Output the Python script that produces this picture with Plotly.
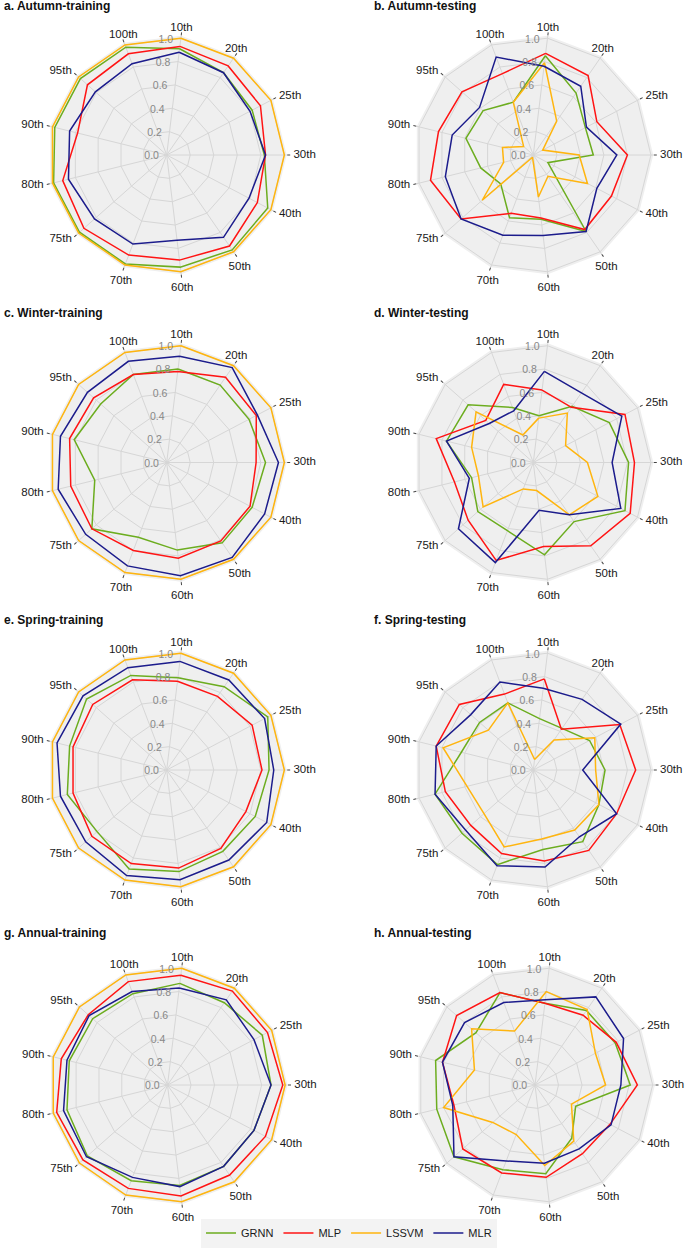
import plotly.graph_objects as go

categories = ['10th', '20th', '25th', '30th', '40th', '50th', '60th',
              '70th', '75th', '80th', '90th', '95th', '100th']
models = ['GRNN', 'MLP', 'LSSVM', 'MLR']
radial_ticks = [0.0, 0.2, 0.4, 0.6, 0.8, 1.0]
radial_labels = ['0.0', '0.2', '0.4', '0.6', '0.8', '1.0']

panel_titles = ['a. Autumn-training', 'b. Autumn-testing',
                'c. Winter-training', 'd. Winter-testing',
                'e. Spring-training', 'f. Spring-testing',
                'g. Annual-training', 'h. Annual-testing']

# a. Autumn-training
autumn_train_grnn = [0.91, 0.85, 0.82, 0.83, 0.97, 0.98, 0.96, 0.99, 0.99, 0.99, 0.98, 0.98, 0.98]
autumn_train_mlp = [0.93, 0.92, 0.90, 0.84, 0.87, 0.94, 0.90, 0.91, 0.94, 0.91, 0.78, 0.90, 0.92]
autumn_train_lssvm = [1.0, 1.0, 1.0, 1.0, 1.0, 1.0, 1.0, 1.0, 1.0, 1.0, 1.0, 1.0, 1.0]
autumn_train_mlr = [0.88, 0.85, 0.80, 0.84, 0.79, 0.85, 0.73, 0.81, 0.82, 0.86, 0.85, 0.81, 0.83]
# b. Autumn-testing
autumn_test_grnn = [0.85, 0.64, 0.50, 0.51, 0.14, 0.79, 0.55, 0.57, 0.37, 0.46, 0.59, 0.57, 0.48]
autumn_test_mlp = [0.87, 0.82, 0.61, 0.80, 0.75, 0.77, 0.54, 0.53, 0.82, 0.90, 0.83, 0.81, 0.74]
autumn_test_lssvm = [0.79, 0.35, 0.09, 0.39, 0.52, 0.22, 0.36, 0.02, 0.58, 0.26, 0.27, 0.11, 0.48]
autumn_test_mlr = [0.76, 0.71, 0.51, 0.71, 0.61, 0.79, 0.69, 0.73, 0.82, 0.77, 0.71, 0.61, 0.89]
# c. Winter-training
winter_train_grnn = [0.80, 0.80, 0.79, 0.84, 0.82, 0.83, 0.75, 0.68, 0.85, 0.63, 0.81, 0.75, 0.80]
winter_train_mlp = [0.78, 0.88, 0.86, 0.76, 0.80, 0.81, 0.82, 0.80, 0.85, 0.84, 0.85, 0.83, 0.80]
winter_train_lssvm = [1.0, 1.0, 1.0, 1.0, 1.0, 1.0, 1.0, 1.0, 1.0, 1.0, 1.0, 1.0, 1.0]
winter_train_mlr = [0.91, 0.98, 0.87, 0.95, 0.94, 0.98, 0.97, 0.94, 0.92, 0.95, 0.93, 0.90, 0.92]
# d. Winter-testing
winter_test_grnn = [0.40, 0.58, 0.73, 0.81, 0.88, 0.61, 0.79, 0.62, 0.63, 0.54, 0.76, 0.74, 0.50]
winter_test_mlp = [0.62, 0.57, 0.88, 0.86, 0.93, 0.86, 0.72, 0.89, 0.74, 0.69, 0.85, 0.54, 0.71]
winter_test_lssvm = [0.38, 0.51, 0.31, 0.46, 0.62, 0.54, 0.24, 0.24, 0.57, 0.48, 0.54, 0.65, 0.25]
winter_test_mlr = [0.78, 0.72, 0.85, 0.67, 0.84, 0.54, 0.41, 0.91, 0.85, 0.56, 0.76, 0.50, 0.47]
# e. Spring-training
spring_train_grnn = [0.79, 0.86, 0.97, 0.87, 0.85, 0.84, 0.87, 0.90, 0.79, 0.87, 0.85, 0.91, 0.86]
spring_train_mlp = [0.76, 0.76, 0.82, 0.81, 0.76, 0.81, 0.84, 0.85, 0.85, 0.82, 0.82, 0.84, 0.82]
spring_train_lssvm = [1.0, 1.0, 1.0, 1.0, 1.0, 1.0, 1.0, 1.0, 1.0, 1.0, 1.0, 1.0, 1.0]
spring_train_mlr = [0.93, 0.93, 0.94, 0.91, 0.96, 0.93, 0.94, 0.96, 0.92, 0.93, 0.96, 0.95, 0.93]
# f. Spring-testing
spring_test_grnn = [0.44, 0.43, 0.54, 0.61, 0.63, 0.74, 0.68, 0.86, 0.81, 0.86, 0.63, 0.61, 0.61]
spring_test_mlp = [0.78, 0.42, 0.83, 0.87, 0.80, 0.83, 0.78, 0.76, 0.71, 0.77, 0.85, 0.84, 0.69]
spring_test_lssvm = [0.09, 0.31, 0.59, 0.53, 0.63, 0.62, 0.59, 0.70, 0.56, 0.58, 0.79, 0.51, 0.61]
spring_test_mlr = [0.70, 0.73, 0.84, 0.42, 0.80, 0.69, 0.83, 0.87, 0.77, 0.86, 0.85, 0.71, 0.80]
# g. Annual-training
annual_train_grnn = [0.87, 0.85, 0.91, 0.88, 0.83, 0.84, 0.86, 0.87, 0.91, 0.88, 0.86, 0.85, 0.83]
annual_train_mlp = [0.94, 0.97, 0.96, 0.98, 0.94, 0.93, 0.95, 0.94, 0.96, 0.97, 0.93, 0.90, 0.94]
annual_train_lssvm = [1.0, 1.0, 1.0, 1.0, 1.0, 1.0, 1.0, 1.0, 1.0, 1.0, 1.0, 1.0, 1.0]
annual_train_mlr = [0.83, 0.88, 0.83, 0.88, 0.83, 0.84, 0.87, 0.84, 0.92, 0.91, 0.88, 0.89, 0.85]
# h. Annual-testing
annual_test_grnn = [0.70, 0.77, 0.77, 0.81, 0.39, 0.55, 0.76, 0.77, 0.92, 0.86, 0.87, 0.67, 0.84]
annual_test_mlp = [0.70, 0.72, 0.78, 0.87, 0.72, 0.71, 0.79, 0.80, 0.82, 0.71, 0.81, 0.89, 0.84]
annual_test_lssvm = [0.80, 0.78, 0.58, 0.60, 0.35, 0.58, 0.69, 0.45, 0.48, 0.80, 0.53, 0.72, 0.49]
annual_test_mlr = [0.73, 0.91, 0.85, 0.73, 0.73, 0.66, 0.67, 0.69, 0.92, 0.72, 0.81, 0.80, 0.75]

panels = [
    [autumn_train_grnn, autumn_train_mlp, autumn_train_lssvm, autumn_train_mlr],
    [autumn_test_grnn, autumn_test_mlp, autumn_test_lssvm, autumn_test_mlr],
    [winter_train_grnn, winter_train_mlp, winter_train_lssvm, winter_train_mlr],
    [winter_test_grnn, winter_test_mlp, winter_test_lssvm, winter_test_mlr],
    [spring_train_grnn, spring_train_mlp, spring_train_lssvm, spring_train_mlr],
    [spring_test_grnn, spring_test_mlp, spring_test_lssvm, spring_test_mlr],
    [annual_train_grnn, annual_train_mlp, annual_train_lssvm, annual_train_mlr],
    [annual_test_grnn, annual_test_mlp, annual_test_lssvm, annual_test_mlr],
]

colors = {'GRNN': '#6cad1f', 'MLP': '#ff1414', 'LSSVM': '#ffb50f', 'MLR': '#1c1c8c'}

W, H = 685, 1251
R = 120        # px radius of each polar area (radial range 0..1.02)
R_LABEL = 130  # px radius of the transparent label polar
centers = [(166.7, 155), (533.3, 155),
           (166.7, 462.5), (533.3, 462.5),
           (166.7, 770), (533.3, 770),
           (167.5, 1085), (535, 1085)]
title_pos = [(2, 6), (371.5, 6), (2, 313), (371.5, 313),
             (2, 620), (371.5, 620), (2, 933), (371.5, 933)]
# style: where each category label sits relative to the end of its spoke
label_side = ['top center', 'top center', 'middle right', 'middle right', 'middle right',
              'bottom center', 'bottom center', 'bottom center', 'middle left',
              'middle left', 'middle left', 'middle left', 'top center']
label_dist = {'top center': 0.94, 'middle right': 0.975, 'middle left': 0.975,
              'bottom center': 0.99}

FONT = 'Arial, Liberation Sans, sans-serif'
ROT = 90 - 180.0 / len(categories) * 0.5  # first axis slightly right of top


def dom(cx, cy, r):
    return dict(x=[(cx - r) / W, (cx + r) / W], y=[(H - cy - r) / H, (H - cy + r) / H])


fig = go.Figure()
layout = dict(width=W, height=H, margin=dict(l=0, r=0, t=0, b=0),
              paper_bgcolor='white', plot_bgcolor='white',
              font=dict(family=FONT, color='#1a1a1a'))
annotations = []
n = len(panels)
for i, series in enumerate(panels):
    key = 'polar' if i == 0 else f'polar{i + 1}'
    lkey = f'polar{n + i + 1}'
    cx, cy = centers[i]
    layout[key] = dict(
        domain=dom(cx, cy, R),
        bgcolor='#efefef',
        gridshape='linear',
        radialaxis=dict(range=[0, 1.02], tickvals=radial_ticks, ticktext=radial_labels,
                        showline=False, ticks='', gridcolor='#d6d6d6', gridwidth=0.8,
                        tickfont=dict(size=10.5, color='#888888', family=FONT),
                        angle=ROT, side='counterclockwise', tickangle=ROT),
        angularaxis=dict(type='category', categoryarray=categories,
                         direction='clockwise', rotation=ROT,
                         showline=False, gridcolor='#d6d6d6', gridwidth=0.8,
                         ticks='outside', ticklen=3, tickcolor='#444444',
                         showticklabels=False),
    )
    # transparent companion polar (same centre) that carries the category labels
    layout[lkey] = dict(
        domain=dom(cx, cy, R_LABEL),
        bgcolor='rgba(0,0,0,0)',
        radialaxis=dict(range=[0, 1], visible=False),
        angularaxis=dict(type='category', categoryarray=categories,
                         direction='clockwise', rotation=ROT, visible=False),
    )
    for m, vals in zip(models, series):
        fig.add_trace(go.Scatterpolar(
            r=list(vals) + [vals[0]], theta=categories + [categories[0]],
            mode='lines', name=m, legendgroup=m, showlegend=(i == 0),
            line=dict(color=colors[m], width=1.5), subplot=key))
    fig.add_trace(go.Scatterpolar(
        r=[label_dist[s] for s in label_side], theta=categories, mode='text',
        text=categories, textposition=label_side, cliponaxis=False,
        textfont=dict(size=11.5, color='#1a1a1a', family=FONT),
        showlegend=False, hoverinfo='skip', subplot=lkey))
    tx, ty = title_pos[i]
    annotations.append(dict(text=f'<b>{panel_titles[i]}</b>', x=tx / W, y=1 - ty / H,
                            xref='paper', yref='paper', xanchor='left', yanchor='middle',
                            showarrow=False, font=dict(size=12, color='#111111', family=FONT)))

layout['annotations'] = annotations
layout['legend'] = dict(orientation='h', x=349 / W, xanchor='center', y=18 / H, yanchor='middle',
                        bgcolor='#f3f3f3', borderwidth=0, itemwidth=30,
                        font=dict(size=11, color='#1a1a1a', family=FONT))
fig.update_layout(**layout)
fig.write_html('out.html', config={'displayModeBar': False},
               post_script="document.body.style.margin='0px';document.body.style.overflow='hidden';")
